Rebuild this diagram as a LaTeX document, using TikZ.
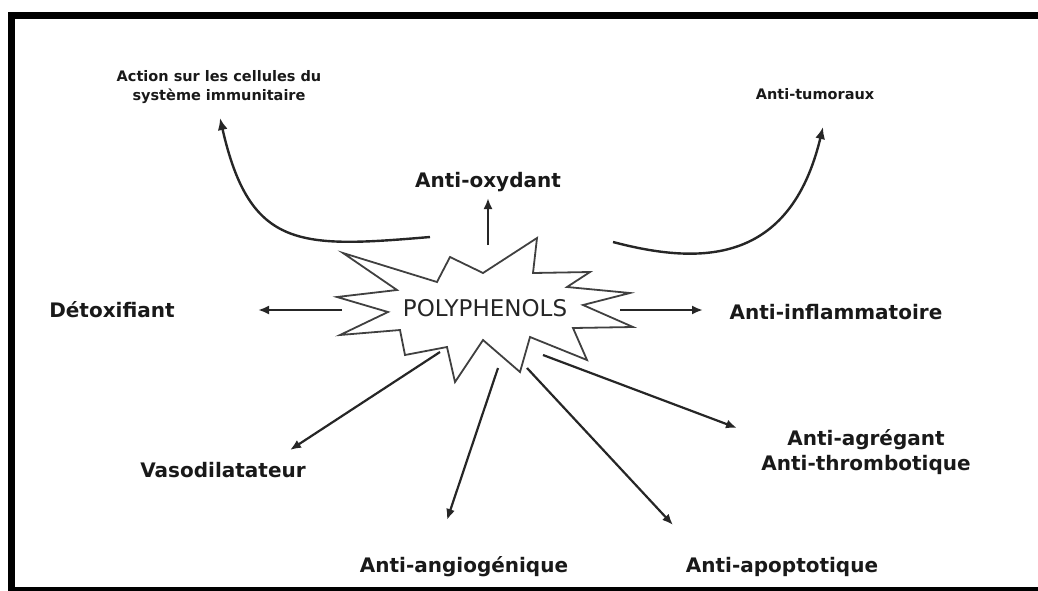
\documentclass[tikz,border=0pt]{standalone}
\usepackage{fontspec}
\setmainfont{DejaVu Sans}
\usetikzlibrary{arrows.meta}
\begin{document}
\begin{tikzpicture}[x=1pt,y=-1pt,
  lbl/.style={font=\fontsize{20}{25}\selectfont\bfseries, inner sep=0pt, text=black!90},
  small/.style={font=\fontsize{14.5}{19}\selectfont\bfseries, align=center, inner sep=0pt, text=black!90},
  arr/.style={line width=2.2pt, draw=black!85, -{Latex[length=11pt,width=9pt]}},
  carr/.style={line width=2.4pt, draw=black!85, -{Latex[length=12pt,width=10pt]}},
  starline/.style={line width=1.8pt, draw=black!75, line join=miter}]
\useasboundingbox (0,0) rectangle (1038,590);
\begin{scope}
  \clip (0,0) rectangle (1038,590);
  \draw[line width=7.5pt] (11.5,15.5) rectangle (1060,591);
\end{scope}

% star
\draw[starline] (337,297) -- (397,290) -- (343,253) -- (437,282) -- (450,257) -- (483,273)
  -- (537,238) -- (533,273) -- (590,272) -- (567,287) -- (630,293) -- (583,305)
  -- (633,327) -- (573,328) -- (587,360) -- (530,337) -- (520,372) -- (483,340)
  -- (455,382) -- (447,347) -- (405,355) -- (400,330) -- (340,335) -- (388,312) -- cycle;
\node[font=\fontsize{23}{28}\selectfont, inner sep=0pt, text=black!85] (poly) at (485,308) {POLYPHENOLS};

% labels
\node[small] (immun) at (219,87) {Action sur les cellules du\\système immunitaire};
\node[small] (tumor) at (815,94) {Anti-tumoraux};
\node[lbl] (oxy) at (488,182) {Anti-oxydant};
\node[lbl] (detox) at (112,310) {Détoxifiant};
\node[lbl] (inflam) at (836,312) {Anti-inflammatoire};
\node[lbl] (vaso) at (223,470) {Vasodilatateur};
\node[lbl, align=center] (agreg) at (866,452) {Anti-agrégant\\Anti-thrombotique};
\node[lbl] (angio) at (464,567) {Anti-angiogénique};
\node[lbl] (apop) at (782,567) {Anti-apoptotique};

% arrow end points
\coordinate (sImm) at (430,237);  \coordinate (tImm) at (220,118);
\coordinate (sTum) at (613,242);  \coordinate (tTum) at (823,127);
\coordinate (sOxy) at (488,245);  \coordinate (tOxy) at (488,198);
\coordinate (sDet) at (342,310);  \coordinate (tDet) at (258,310);
\coordinate (sInf) at (620,310);  \coordinate (tInf) at (703,310);
\coordinate (sVas) at (440,352);  \coordinate (tVas) at (290,450);
\coordinate (sAng) at (498,368);  \coordinate (tAng) at (447,520);
\coordinate (sApo) at (527,368);  \coordinate (tApo) at (673,525);
\coordinate (sAgr) at (543,355);  \coordinate (tAgr) at (737,428);

\draw[carr] (sImm) .. controls (300,248) and (250,250) .. (tImm);
\draw[carr] (sTum) .. controls (700,265) and (790,265) .. (tTum);
\draw[arr] (sOxy) -- (tOxy);
\draw[arr] (sDet) -- (tDet);
\draw[arr] (sInf) -- (tInf);
\draw[arr] (sVas) -- (tVas);
\draw[arr] (sAng) -- (tAng);
\draw[arr] (sApo) -- (tApo);
\draw[arr] (sAgr) -- (tAgr);
\end{tikzpicture}
\end{document}
